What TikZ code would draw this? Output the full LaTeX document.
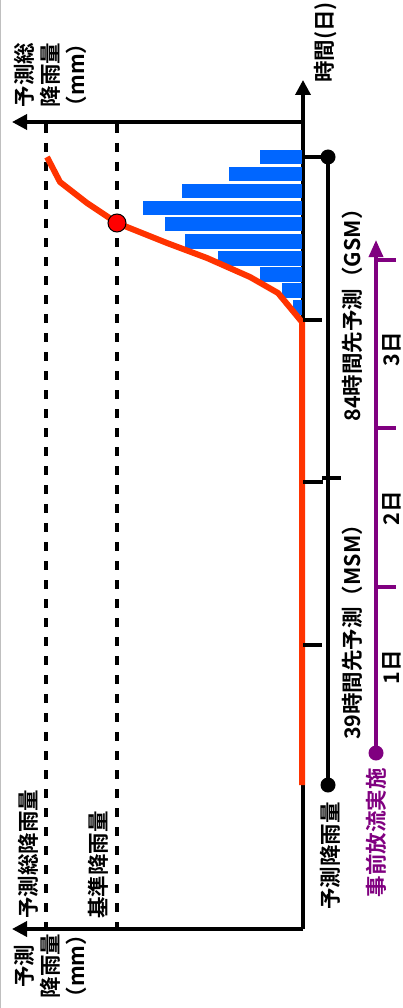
\documentclass[tikz,border=0pt]{standalone}
\usepackage{fontspec}
\setmainfont{Noto Sans CJK JP}[BoldFont={* Bold}]
\usetikzlibrary{arrows.meta}

\definecolor{rainblue}{RGB}{0,102,255}
\definecolor{curvered}{RGB}{255,51,0}
\definecolor{prepurple}{RGB}{128,0,128}

\tikzset{
	axis/.style = {line width = 3.5pt, -{Triangle[length = 15pt, width = 15pt]}},
	guide/.style = {line width = 3.5pt, dash pattern = on 9pt off 10pt},
	tick/.style = {line width = 3.5pt},
	lbl/.style = {rotate = 90, inner sep = 0pt, font = \fontsize{21.5}{26}\selectfont\bfseries}
}

\begin{document}
\begin{tikzpicture}[x = 1pt, y = -1pt]

\useasboundingbox (0,0) rectangle (402,1008);
\draw [gray!50] (0.5,0) -- (0.5,1008);

%%% Draw Axes

\coordinate (origin) at (303,929);
\coordinate (timetip) at (303,80);
\coordinate (topcorner) at (303,122);
\coordinate (toptip) at (12,122);
\coordinate (bottip) at (12,929);

\draw [axis] (origin) -- (timetip);
\draw [axis] (topcorner) -- (toptip);
\draw [axis] (origin) -- (bottip);

%%% Draw Dashed Levels

\draw [guide] (46,124) -- (46,929);
\draw [guide] (117,124) -- (117,929);

%%% Draw Rain Bars

\foreach \t/\l in {150/260, 167/229, 184/182, 201/143, 217/165, 234/185, 251/218, 267/260, 283/282, 300/293}{
	\fill [rainblue] (\l,\t) rectangle (302,\t+14.5);
}

%%% Draw Total Rain Curve

\draw [curvered, line width = 6pt, line join = round] (302,785) -- (302,322) -- (278,293) -- (250,277) -- (207,258) -- (167,243) -- (117,223) -- (87,203) -- (60,182) -- (47,157);

\filldraw [fill = red, draw = black, line width = 1pt] (117,223) circle (9pt);

%%% Draw Forecast Range

\draw [tick] (303,157) -- (328,157) -- (328,785);
\fill (328,157) circle (7.5pt);
\fill (328,785) circle (7.5pt);

\foreach \y in {320, 645}{
	\draw [tick] (303,\y) -- (322,\y);
}
\draw [tick] (303,482) -- (323,482);
\draw [tick] (322,478) -- (341,478);

%%% Draw Prior Release

\draw [prepurple, line width = 3.5pt, -{Triangle[length = 17pt, width = 14pt]}] (376,753) -- (376,240);
\fill [prepurple] (376,753) circle (7.5pt);

\foreach \y in {260, 428, 587}{
	\draw [prepurple, line width = 4.5pt] (376,\y) -- (396,\y);
}

%%% Labels

\node [lbl, anchor = west] (timelbl) at (326,83) {時間(日)};
\node [lbl, align = center] (toplbl) at (50,75) {予測総\\降雨量\\（mm）};
\node [lbl, align = center] (botlbl) at (50,966) {予測\\降雨量\\（mm）};
\node [lbl, anchor = west] (totallbl) at (28,919) {予測総降雨量};
\node [lbl, anchor = west] (reflbl) at (98,919) {基準降雨量};
\node [lbl, anchor = east] (fclbl) at (330,802) {予測降雨量};
\node [lbl, text = prepurple, anchor = east] (prelbl) at (376,768) {事前放流実施};
\node [lbl] (gsmlbl) at (352,310) {84時間先予測（GSM）};
\node [lbl] (msmlbl) at (352,627) {39時間先予測（MSM）};

\foreach \y/\n in {667/1, 508/2, 349/3}{
	\node [lbl] (day\n) at (392,\y) {\n{}日};
}

\end{tikzpicture}
\end{document}
